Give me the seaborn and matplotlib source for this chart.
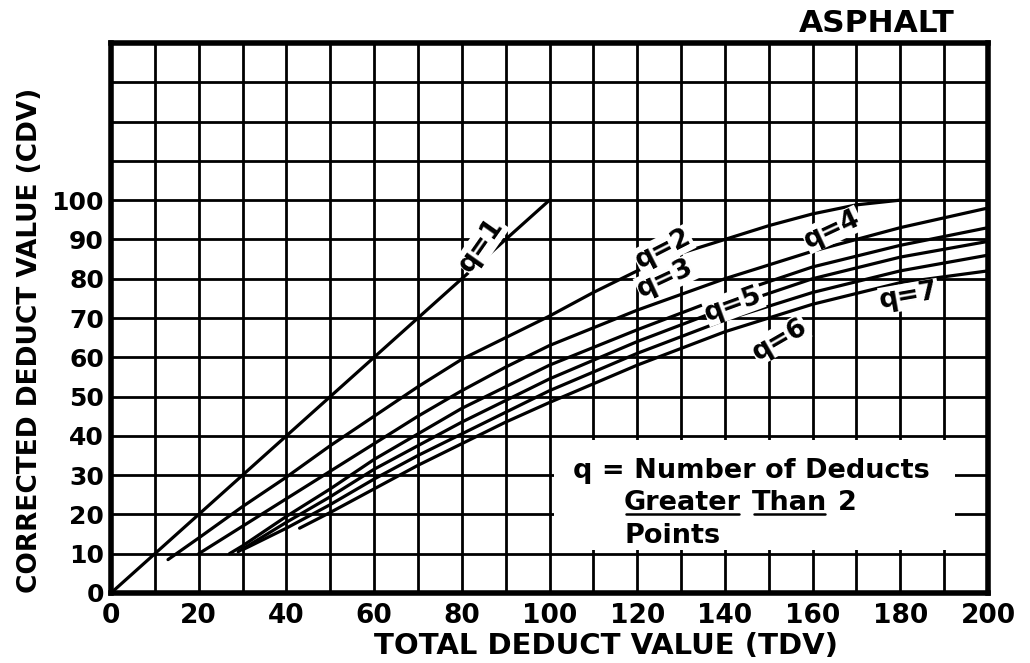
import numpy as np
import pandas as pd
import matplotlib
matplotlib.use("Agg")
import matplotlib.pyplot as plt
import seaborn as sns

# ---- data ----
q1_tdv = [0, 100]
q1_cdv = [0, 100]
q2_tdv = [13, 20, 30, 40, 50, 60, 70, 80, 90, 100, 110, 120, 130, 140, 150, 160, 170, 180]
q2_cdv = [8.5, 14, 22, 29.5, 37.5, 45, 52.5, 59.5, 65, 70.5, 76.5, 82, 86.5, 90, 93.5, 96.5, 98.8, 100]
q3_tdv = [20, 30, 40, 50, 60, 70, 80, 90, 100, 120, 140, 160, 180, 200]
q3_cdv = [10, 17, 24, 31, 38, 45, 51.5, 57.5, 63, 72, 80, 87, 93, 98]
q4_tdv = [27, 30, 40, 50, 60, 70, 80, 90, 100, 120, 140, 160, 180, 200]
q4_cdv = [10, 12, 19.5, 26.5, 34, 40.5, 47, 52.5, 58, 67, 75.5, 83, 88.5, 93]
q5_tdv = [29, 40, 50, 60, 70, 80, 90, 100, 120, 140, 160, 180, 200]
q5_cdv = [10.5, 18, 24.5, 31.5, 37.5, 43.5, 49, 54.5, 64, 72.5, 80, 85.5, 89.5]
q6_tdv = [30, 40, 50, 60, 70, 80, 90, 100, 120, 140, 160, 180, 200]
q6_cdv = [11, 16.5, 22.5, 29, 35, 40.5, 46, 51.5, 61, 69.5, 76.5, 82, 86]
q7_tdv = [43, 50, 60, 70, 80, 90, 100, 120, 140, 160, 180, 200]
q7_cdv = [16.5, 20.5, 26.5, 32.5, 38, 43.5, 48.5, 58, 66.5, 73.5, 79, 82]

curve_names = ["q=1", "q=2", "q=3", "q=4", "q=5", "q=6", "q=7"]
x_tick_values = list(range(0, 201, 20))
y_tick_values = list(range(0, 101, 10))

title_text = "ASPHALT"
x_label = "TOTAL DEDUCT VALUE (TDV)"
y_label = "CORRECTED DEDUCT VALUE (CDV)"

# curve label placement: (text, x, y, rotation)
curve_labels = [
    ("q=1", 84.5, 88.5, 55),
    ("q=2", 126, 87.5, 27),
    ("q=3", 126.5, 80, 25),
    ("q=4", 164.5, 92.5, 25),
    ("q=5", 142, 73.5, 20),
    ("q=6", 152.5, 64.5, 30),
    ("q=7", 182, 75.5, 10),
]

# ---- build long form data ----
all_x = [q1_tdv, q2_tdv, q3_tdv, q4_tdv, q5_tdv, q6_tdv, q7_tdv]
all_y = [q1_cdv, q2_cdv, q3_cdv, q4_cdv, q5_cdv, q6_cdv, q7_cdv]
frames = []
for name, xs, ys in zip(curve_names, all_x, all_y):
    frames.append(pd.DataFrame({"TDV": xs, "CDV": ys, "q": name}))
df = pd.concat(frames, ignore_index=True)

sns.set_style("white")
plt.rcParams['font.family'] = ['DejaVu Sans']
plt.rcParams['font.weight'] = 'bold'
plt.rcParams['text.color'] = 'black'
plt.rcParams['axes.labelcolor'] = 'black'
plt.rcParams['xtick.color'] = 'black'
plt.rcParams['ytick.color'] = 'black'

fig = plt.figure(figsize=(10.30, 6.63), dpi=100)
ax = fig.add_axes([111 / 1030, 1 - 593 / 663, (988 - 111) / 1030, (593 - 43) / 663])

sns.lineplot(data=df, x="TDV", y="CDV", hue="q", palette=["black"] * 7,
             legend=False, ax=ax, linewidth=2.3, sort=False, estimator=None, zorder=3)

ax.set_xlim(0, 200)
ax.set_ylim(0, 140)
ax.set_xticks(range(0, 201, 10))
ax.set_xticklabels([str(v) if v in x_tick_values else "" for v in range(0, 201, 10)])
ax.set_yticks(range(0, 141, 10))
ax.set_yticklabels([str(v) if v in y_tick_values else "" for v in range(0, 141, 10)])
ax.tick_params(axis="x", length=0, labelsize=19, pad=7, colors="black")
ax.tick_params(axis="y", length=0, labelsize=18, pad=5, colors="black")
for lab in ax.get_xticklabels() + ax.get_yticklabels():
    lab.set_fontweight("bold")
ax.grid(True, color="black", linewidth=2.0, zorder=1)
ax.set_axisbelow(True)
for sp in ax.spines.values():
    sp.set_visible(True)
    sp.set_color("black")
    sp.set_linewidth(4)

ax.set_xlabel("")
ax.set_ylabel("")
fig.text(606 / 1030, 1 - 646 / 663, x_label, ha="center", va="center",
         fontsize=21, fontweight="bold", color="black")
fig.text(30 / 1030, 1 - 340 / 663, y_label, ha="center", va="center", rotation=90,
         fontsize=19, fontweight="bold", color="black")
fig.text(955 / 1030, 1 - 24 / 663, title_text, ha="right", va="center",
         fontsize=22.5, fontweight="bold", color="black")

# curve labels (white background breaks the lines)
for txt, lx, ly, rot in curve_labels:
    ax.text(lx, ly, txt, rotation=rot, ha="center", va="center", fontsize=19,
            fontweight="bold", zorder=5, color="black",
            bbox=dict(facecolor="white", edgecolor="none", pad=0.3))

# note box
ax.add_patch(plt.Rectangle((101, 11), 91.5, 28, facecolor="white", edgecolor="none", zorder=2.5))
fs = 19.5
ax.text(105.3, 31, "q = Number of Deducts", fontsize=fs, fontweight="bold",
        va="center", ha="left", zorder=6, color="black")
t_g = ax.text(117, 23, "Greater", fontsize=fs, fontweight="bold", va="center", ha="left",
              zorder=6, color="black")
fig.canvas.draw()
r = fig.canvas.get_renderer()
bb = t_g.get_window_extent(r)
inv = ax.transData.inverted()
x1 = inv.transform((bb.x1, bb.y0))[0]
t_t = ax.text(x1 + 2.5, 23, "Than", fontsize=fs, fontweight="bold", va="center", ha="left",
              zorder=6, color="black")
bb2 = t_t.get_window_extent(r)
x2 = inv.transform((bb2.x1, bb2.y0))[0]
ax.text(x2 + 2.5, 23, "2", fontsize=fs, fontweight="bold", va="center", ha="left",
        zorder=6, color="black")
for b in (bb, bb2):
    (ux0, uy), (ux1, _) = inv.transform([(b.x0 + 2, b.y0 + 2), (b.x1 - 2, b.y0 + 2)])
    ax.plot([ux0, ux1], [uy, uy], color="black", lw=1.8, zorder=6)
ax.text(117, 14.5, "Points", fontsize=fs, fontweight="bold", va="center", ha="left",
        zorder=6, color="black")

fig.savefig("out.png", dpi=100)
